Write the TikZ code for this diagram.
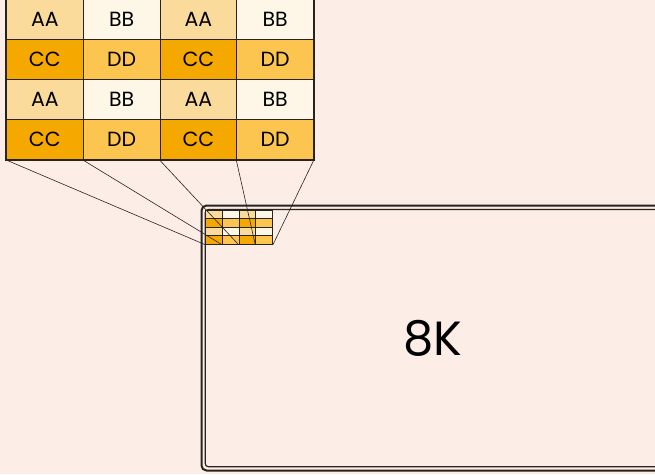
\documentclass[tikz,border=0pt]{standalone}
\usepackage{fontspec}
\setmainfont{Poppins}
\definecolor{paper}{HTML}{FCEEE6}
\definecolor{tileAA}{HTML}{FADB9B}
\definecolor{tileBB}{HTML}{FEF7E8}
\definecolor{tileCC}{HTML}{F5A800}
\definecolor{tileDD}{HTML}{FBC550}
\definecolor{ink}{HTML}{29231F}
\begin{document}
\begin{tikzpicture}[
		x=1pt,y=-1pt,
		bigcell/.style={draw=ink,line width=0.9pt,minimum width=76.75pt,minimum height=40pt,
			inner sep=0pt,anchor=north west,font=\fontsize{20.5}{20.5}\selectfont},
		smallcell/.style={draw=ink,line width=1pt,minimum width=16.75pt,minimum height=8.4pt,
			inner sep=0pt,anchor=north west},
		zoomline/.style={draw=ink,line width=0.6pt},
		frame/.style={draw=ink}
	]
		\fill[paper] (0,0) rectangle (655,474);
		\useasboundingbox (0,0) rectangle (655,474);
		% 8K screen
		\draw[frame,line width=2pt,rounded corners=5pt] (201.5,205.5) rectangle (720,470.5);
		\draw[frame,line width=1.2pt,rounded corners=3pt] (205.3,209.5) rectangle (720,466.7);
		\node[font=\fontsize{48}{48}\selectfont] (screen) at (433,338) {8K};
		% pixel block, small and magnified
		\foreach \r/\la/\lb in {1/AA/BB,2/CC/DD,3/AA/BB,4/CC/DD}
			\foreach \c in {1,...,4} {
				\ifodd\c\relax \edef\lab{\la}\else \edef\lab{\lb}\fi
				\node[smallcell,fill=tile\lab] (s-\r-\c) at ({205+16.75*(\c-1)},{210+8.4*(\r-1)}) {};
				\node[bigcell,fill=tile\lab] (b-\r-\c) at ({6+76.75*(\c-1)},{-1+40*(\r-1)}) {\lab};
			}
		\draw[ink,line width=2.6pt] (b-1-1.north west) rectangle (b-4-4.south east);
		\foreach \c in {1,...,4}
			\draw[zoomline] (b-4-\c.south west) -- (s-4-\c.south west);
		\draw[zoomline] (b-4-4.south east) -- (s-4-4.south east);
	\end{tikzpicture}
\end{document}
